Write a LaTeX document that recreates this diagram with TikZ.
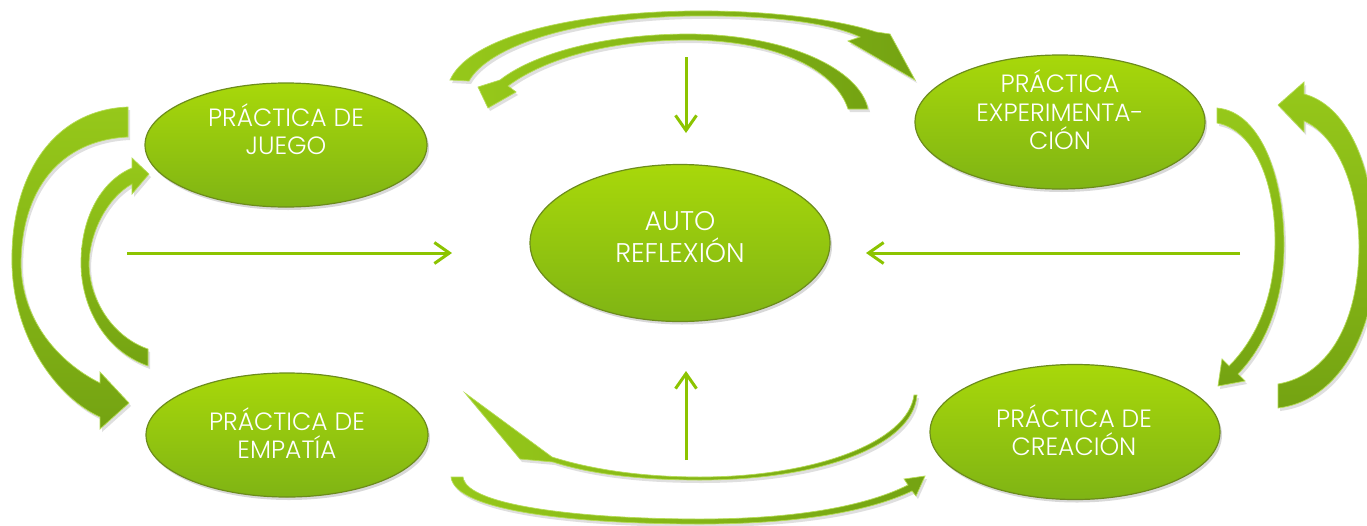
\documentclass[tikz,border=0pt]{standalone}
\usepackage{fontspec}
\setmainfont{Poppins}[UprightFont={* Light}]
\usetikzlibrary{shapes.geometric,arrows.meta,shadows}
\definecolor{ovalTop}{HTML}{A8D80A}
\definecolor{ovalBot}{HTML}{7FB414}
\definecolor{ovalLine}{HTML}{6C8C1C}
\definecolor{lineG}{HTML}{8CC400}
\definecolor{bandA}{HTML}{96C81A}
\definecolor{bandB}{HTML}{74A312}
\definecolor{bandEdge}{HTML}{B5DC55}
\begin{document}
\begin{tikzpicture}[x=1pt,y=-1pt,
  oval/.style={ellipse, top color=ovalTop, bottom color=ovalBot, draw=ovalLine,
    line width=1.2pt, inner sep=0pt,
    drop shadow={opacity=0.3, shadow xshift=2pt, shadow yshift=-3pt}},
  lbl/.style={text=white, align=center, font=\fontsize{25}{28.5}\selectfont, inner sep=0pt},
  lblbig/.style={lbl, font=\fontsize{27}{32}\selectfont},
  flow/.style={draw=lineG, line width=3pt,
    -{Straight Barb[length=15pt,width=21pt,line width=3pt]}},
  band/.style={left color=bandA, right color=bandB, draw=bandEdge, line width=0.7pt,
    drop shadow={opacity=0.25, shadow xshift=2pt, shadow yshift=-3pt}},
  bandv/.style={top color=bandA, bottom color=bandB, draw=bandEdge, line width=0.7pt,
    drop shadow={opacity=0.25, shadow xshift=2pt, shadow yshift=-3pt}}]
\useasboundingbox (0,0) rectangle (1367,525);
\fill[white] (0,0) rectangle (1367,525);

% ovals
\node[oval, minimum width=282pt, minimum height=124pt] (juego) at (286,145) {};
\node[oval, minimum width=290pt, minimum height=134pt] (exper) at (1060,122) {};
\node[oval, minimum width=300pt, minimum height=157pt] (auto) at (680,243) {};
\node[oval, minimum width=282pt, minimum height=124pt] (empat) at (287,435) {};
\node[oval, minimum width=290pt, minimum height=135pt] (creac) at (1075,432) {};

\node[lbl] (juegoT) at (286,129) {PRÁCTICA DE\\JUEGO};
\node[lbl] (experT) at (1060,110) {PRÁCTICA\\EXPERIMENTA-\\CIÓN};
\node[lblbig] (autoT) at (680,237) {AUTO\\REFLEXIÓN};
\node[lbl] (empatT) at (287,433) {PRÁCTICA DE\\EMPATÍA};
\node[lbl] (creacT) at (1074,430) {PRÁCTICA DE\\CREACIÓN};

% straight arrows
\coordinate (lS) at (127,253); \coordinate (lE) at (452,253);
\coordinate (rS) at (1240,253); \coordinate (rE) at (866,253);
\coordinate (tS) at (686,57); \coordinate (tE) at (686,133);
\coordinate (bS) at (686,460); \coordinate (bE) at (686,371);
\draw[flow] (lS) -- (lE);
\draw[flow] (rS) -- (rE);
\draw[flow] (tS) -- (tE);
\draw[flow] (bS) -- (bE);

% left outer: juego -> empatia
\path[bandv] (128,107) .. controls (50,110) and (10,180) .. (12,265)
  .. controls (14,340) and (58,398) .. (100,417) -- (100,429) -- (129,403) -- (100,372) -- (100,383)
  .. controls (58,362) and (22,320) .. (21,265) .. controls (21,190) and (60,140) .. (128,137) -- cycle;
% left inner: empatia -> juego
\path[bandv] (148,366) .. controls (103,350) and (81,305) .. (81,263)
  .. controls (81,215) and (103,180) .. (132,168) -- (132,158) -- (149,174) -- (132,194) -- (132,184)
  .. controls (107,198) and (90,232) .. (89,263) .. controls (89,300) and (113,337) .. (148,349) -- cycle;
% right inner: experimentacion -> creacion
\path[bandv] (1217,108) .. controls (1262,112) and (1284,180) .. (1284,245)
  .. controls (1284,300) and (1266,345) .. (1238,374) -- (1245,381) -- (1218,386) -- (1222,359) -- (1229,366)
  .. controls (1255,340) and (1274,300) .. (1275,245) .. controls (1276,185) and (1255,130) .. (1217,123) -- cycle;
% right outer: creacion -> experimentacion
\path[bandv] (1278,408) .. controls (1345,400) and (1378,320) .. (1376,245)
  .. controls (1373,160) and (1345,105) .. (1304,94) -- (1304,82) -- (1278,105) -- (1304,132) -- (1304,121)
  .. controls (1336,135) and (1358,185) .. (1359,245) .. controls (1359,320) and (1330,375) .. (1278,384) -- cycle;
% top outer: juego -> experimentacion
\path[band] (450,80) .. controls (468,40) and (560,13) .. (690,11)
  .. controls (770,10) and (840,20) .. (876,32) -- (890,34) -- (915,80) -- (848,41) -- (860,37)
  .. controls (828,22) and (765,15) .. (690,16) .. controls (572,18) and (488,47) .. (469,81) -- cycle;
% top inner: experimentacion -> juego
\path[band] (868,109) .. controls (860,70) and (790,35) .. (690,34)
  .. controls (600,34) and (532,55) .. (500,80) -- (478,87) -- (488,108) -- (516,92) -- (508,86)
  .. controls (540,62) and (602,40) .. (690,40) .. controls (782,41) and (836,72) .. (848,109) -- cycle;
% bottom inner: creacion -> empatia
\path[band] (917,395) .. controls (913,446) and (820,480) .. (700,480)
  .. controls (640,480) and (590,474) .. (553,462) -- (520,459) -- (465,393) -- (552,457)
  .. controls (590,469) and (640,477) .. (700,477) .. controls (815,477) and (908,442) .. (914,395) -- cycle;
% bottom outer: empatia -> creacion
\path[band] (451,477) .. controls (455,512) and (580,524) .. (700,524)
  .. controls (800,524) and (870,511) .. (912,491) -- (916,496) -- (925,476) -- (904,479) -- (908,485)
  .. controls (868,505) and (800,519) .. (700,519) .. controls (590,519) and (466,507) .. (463,477) -- cycle;
\end{tikzpicture}
\end{document}
